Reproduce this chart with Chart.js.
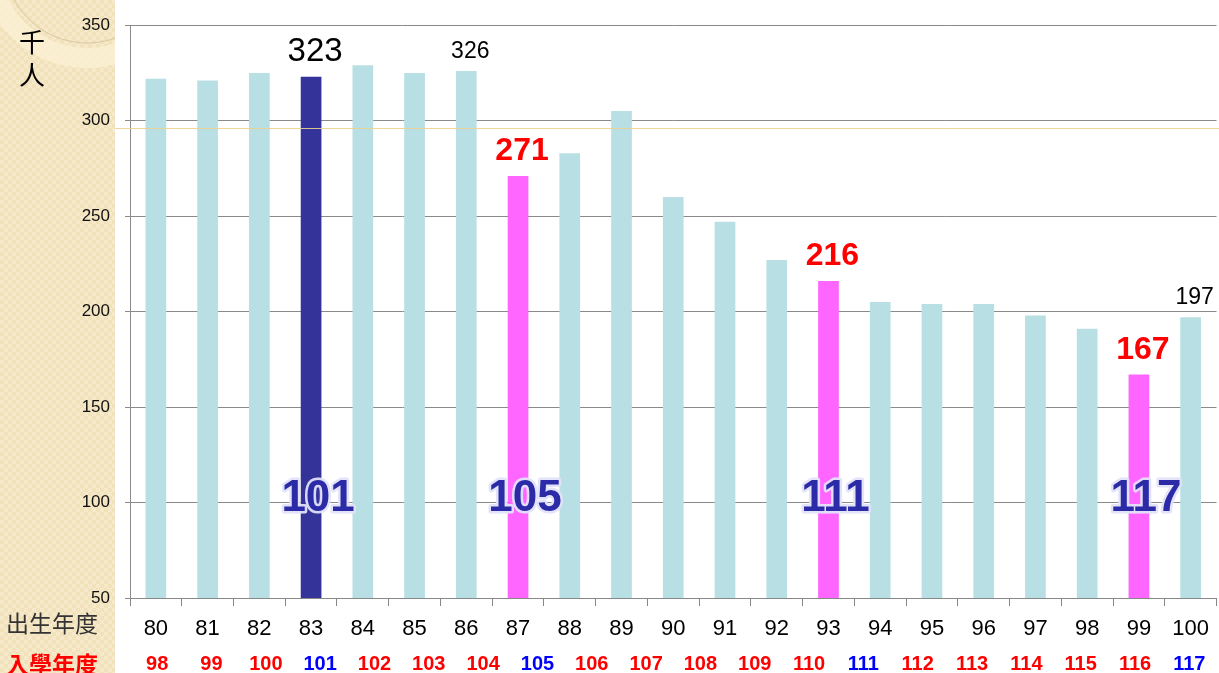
<!DOCTYPE html>
<html>
<head>
<meta charset="utf-8">
<script src="https://cdn.jsdelivr.net/npm/chart.js@4"></script>
<style>
  html, body { margin: 0; padding: 0; background: #fff; }
  canvas { display: block; }
</style>
</head>
<body>
<canvas id="births_canvas" width="1219" height="673"></canvas>
<script>
// 出生年度 / 入學年度 / 出生人數(千人)
var birthYears = ['80','81','82','83','84','85','86','87','88','89','90','91','92','93','94','95','96','97','98','99','100'];
var entryYears = ['98','99','100','101','102','103','104','105','106','107','108','109','110','111','112','113','114','115','116','117'];
var births = [322, 321, 325, 323, 329, 325, 326, 271, 283, 305, 260, 247, 227, 216, 205, 204, 204, 198, 191, 167, 197];
var yTicks = [50, 100, 150, 200, 250, 300, 350];

// which bars are highlighted / labelled
var darkBars = [3];
var pinkBars = [7, 13, 19];
var labelledBars = [3, 6, 7, 13, 19, 20];

var FONT = "Arial, 'Liberation Sans', sans-serif";
var CJK = "'Noto Sans CJK TC', 'Noto Sans CJK SC', sans-serif";

function barColor(i) {
    if (darkBars.indexOf(i) >= 0) return '#333399';
    if (pinkBars.indexOf(i) >= 0) return '#FF66FF';
    return '#B8DFE3';
}
function entryColor(i) {
    // 101,105,111,117 in blue
    if (darkBars.indexOf(i) >= 0 || pinkBars.indexOf(i) >= 0) return '#0000FF';
    return '#FF0000';
}

var bgPlugin = {
    id: 'bg',
    beforeDraw: function(chart) {
        var ctx = chart.ctx;
        ctx.save();
        ctx.fillStyle = '#fff';
        ctx.fillRect(0, 0, chart.width, chart.height);
        // beige checkered side panel
        var p = document.createElement('canvas');
        p.width = 8; p.height = 8;
        var pc = p.getContext('2d');
        pc.fillStyle = '#F2E2BC';
        pc.fillRect(0, 0, 8, 8);
        pc.fillStyle = '#F6E9C9';
        pc.fillRect(0, 0, 4, 4);
        pc.fillRect(4, 4, 4, 4);
        ctx.fillStyle = ctx.createPattern(p, 'repeat');
        ctx.fillRect(0, 0, 115, chart.height);
        // decorative rings
        ctx.beginPath();
        ctx.rect(0, 0, 115, chart.height);
        ctx.clip();
        ctx.beginPath();
        ctx.arc(87, -40, 98, 0, Math.PI * 2);
        ctx.lineWidth = 20;
        ctx.strokeStyle = 'rgba(250,240,210,0.85)';
        ctx.stroke();
        ctx.beginPath();
        ctx.arc(87, -40, 83, 0, Math.PI * 2);
        ctx.lineWidth = 1;
        ctx.strokeStyle = '#D9C9A2';
        ctx.stroke();
        ctx.beginPath();
        ctx.arc(150, -60, 68, 0, Math.PI * 2);
        ctx.lineWidth = 4;
        ctx.strokeStyle = 'rgba(255,250,235,0.9)';
        ctx.stroke();
        ctx.restore();
    },
    afterDraw: function(chart) {
        var ctx = chart.ctx;
        ctx.save();
        ctx.textAlign = 'center';
        ctx.textBaseline = 'middle';
        ctx.fillStyle = '#000';
        ctx.font = '26px ' + CJK;
        ctx.fillText('千', 32, 42);
        ctx.fillText('人', 32, 75);
        ctx.textAlign = 'left';
        ctx.fillStyle = '#333';
        ctx.font = '23px ' + CJK;
        ctx.fillText('出生年度', 6, 623);
        ctx.fillStyle = '#FF0000';
        ctx.font = 'bold 23px ' + CJK;
        ctx.fillText('入學年度', 6, 664);
        ctx.restore();
    }
};

var labelPlugin = {
    id: 'labels',
    afterDatasetsDraw: function(chart) {
        var ctx = chart.ctx;
        var meta = chart.getDatasetMeta(0);
        var y = chart.scales.y;
        ctx.save();
        // thin yellow line under 300
        ctx.strokeStyle = 'rgba(235,210,140,0.9)';
        ctx.lineWidth = 1;
        ctx.beginPath();
        var ly = Math.round(y.getPixelForValue(296.3)) + 0.5;
        ctx.moveTo(115, ly);
        ctx.lineTo(chart.width, ly);
        ctx.stroke();

        // value labels
        ctx.textAlign = 'center';
        ctx.textBaseline = 'alphabetic';
        labelledBars.forEach(function(i) {
            var bar = meta.data[i];
            var font, color, gap;
            if (pinkBars.indexOf(i) >= 0) {
                font = 'bold 32px ' + FONT; color = '#FF0000'; gap = 16;
            } else if (darkBars.indexOf(i) >= 0) {
                font = '33px ' + FONT; color = '#000'; gap = 16;
            } else {
                font = '23px ' + FONT; color = '#000'; gap = 13;
            }
            ctx.font = font;
            ctx.fillStyle = color;
            ctx.fillText(String(births[i]), bar.x + 4, bar.y - gap);
        });

        // big entry-year marks
        ctx.font = 'bold 44px ' + FONT;
        ctx.textBaseline = 'middle';
        ctx.lineJoin = 'round';
        var my = y.getPixelForValue(102);
        darkBars.concat(pinkBars).forEach(function(i) {
            var bar = meta.data[i];
            var t = entryYears[i];
            ctx.lineWidth = 5;
            ctx.strokeStyle = 'rgba(225,225,250,0.95)';
            ctx.strokeText(t, bar.x + 7, my);
            ctx.fillStyle = '#2B2BA8';
            ctx.fillText(t, bar.x + 7, my);
        });
        ctx.restore();
    }
};

var chartdata = {
    labels: birthYears,
    datasets: [{
        data: births,
        backgroundColor: births.map(function(v, i) { return barColor(i); }),
        borderWidth: 0,
        categoryPercentage: 1,
        barPercentage: 0.4
    }]
};

var options = {
    responsive: false,
    devicePixelRatio: 1,
    animation: false,
    layout: { padding: { top: 21, left: 0, right: 0, bottom: 0 } },
    plugins: { legend: { display: false }, tooltip: { enabled: false } },
    scales: {
        x: {
            position: 'bottom',
            offset: true,
            grid: { offset: true, drawOnChartArea: false, tickLength: 8, color: '#888' },
            border: { color: '#888' },
            ticks: { font: { size: 22, family: FONT }, color: '#000', padding: 10, maxRotation: 0, autoSkip: false },
            afterFit: function(s) { s.height = 47; }
        },
        x2: {
            type: 'category',
            position: 'bottom',
            labels: entryYears,
            offset: true,
            grid: { display: false, drawTicks: false },
            border: { display: false },
            ticks: {
                font: { size: 20, weight: 'bold', family: FONT },
                color: function(c) { return entryColor(c.index); },
                padding: 7, maxRotation: 0, autoSkip: false
            },
            afterFit: function(s) { s.height = 28; }
        },
        y: {
            min: yTicks[0],
            max: yTicks[yTicks.length - 1],
            afterBuildTicks: function(s) { s.ticks = yTicks.map(function(v) { return { value: v }; }); },
            ticks: { font: { size: 17, family: FONT }, color: '#111', padding: 15 },
            grid: { color: '#8a8a8a', tickLength: 5 },
            border: { color: '#8a8a8a' },
            afterFit: function(s) { s.width = 130; }
        }
    }
};

var ctx = document.getElementById('births_canvas');
var chart = new Chart(ctx, {
    type: 'bar',
    data: chartdata,
    options: options,
    plugins: [bgPlugin, labelPlugin]
});
</script>
</body>
</html>
